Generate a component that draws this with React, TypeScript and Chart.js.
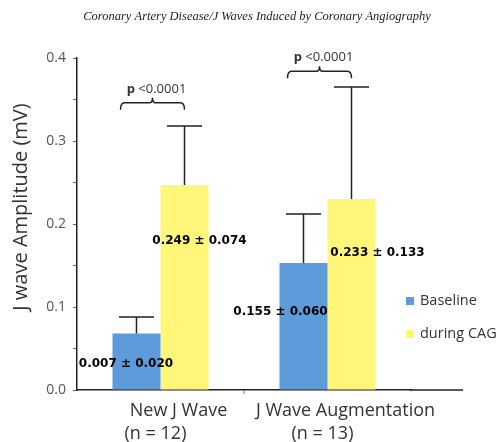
import React, { useEffect, useRef } from 'react';
import { Chart, registerables } from 'chart.js';

Chart.register(...registerables);

// ---- data ----
const categories = ['New J Wave', 'J Wave Augmentation'];
const categorySubLabels = ['(n = 12)', '(n = 13)'];
const seriesNames = ['Baseline', 'during CAG'];
const baselineMeans = [0.068, 0.153];
const baselineErr = [0.02, 0.059];
const cagMeans = [0.247, 0.23];
const cagErr = [0.071, 0.135];
const baselineValueLabels = ['0.007 ± 0.020', '0.155 ± 0.060'];
const cagValueLabels = ['0.249 ± 0.074', '0.233 ± 0.133'];
const pValueLabels = ['<0.0001', '<0.0001'];
const yMin = 0;
const yMax = 0.4;
const yStep = 0.05;
const chartTitle = 'Coronary Artery Disease/J Waves Induced by Coronary Angiography';
const yTitle = 'J wave Amplitude (mV)';

// ---- styles / annotation layout ----
const BLUE = '#5E9BDB';
const YELLOW = '#FFF67A';
const INK = '#222';
const valueLabelLevels = [[0.031, 0.094], [0.18, 0.165]]; // [dataset][category]
const valueLabelShift = [[-10.5, -23], [15, 26]];
const bracketLevels = [0.346, 0.384];

const annotate = {
  id: 'annotate',
  afterDatasetsDraw(chart: any) {
    const { ctx, chartArea, scales } = chart;
    const y = scales.y;
    const xs = scales.x;
    const means = [baselineMeans, cagMeans];
    const errs = [baselineErr, cagErr];
    const texts = [baselineValueLabels, cagValueLabels];
    ctx.save();
    // error bars
    ctx.strokeStyle = INK;
    ctx.lineWidth = 1.5;
    for (let d = 0; d < 2; d++) {
      const meta = chart.getDatasetMeta(d);
      meta.data.forEach((bar: any, i: number) => {
        const cx = bar.x;
        const top = y.getPixelForValue(means[d][i]);
        const ey = y.getPixelForValue(means[d][i] + errs[d][i]);
        const w = bar.width * 0.73;
        ctx.beginPath();
        ctx.moveTo(cx, top);
        ctx.lineTo(cx, ey);
        ctx.moveTo(cx - w / 2, ey);
        ctx.lineTo(cx + w / 2, ey);
        ctx.stroke();
      });
    }
    // value labels
    ctx.fillStyle = '#000';
    ctx.font = 'bold 12px "DejaVu Sans"';
    ctx.textAlign = 'center';
    ctx.textBaseline = 'middle';
    for (let d = 0; d < 2; d++) {
      const meta = chart.getDatasetMeta(d);
      meta.data.forEach((bar: any, i: number) => {
        ctx.fillText(texts[d][i], bar.x + valueLabelShift[d][i], y.getPixelForValue(valueLabelLevels[d][i]));
      });
    }
    // p-value brackets
    const m0 = chart.getDatasetMeta(0);
    const m1 = chart.getDatasetMeta(1);
    categories.forEach((_, i) => {
      const x1 = m0.data[i].x - 16;
      const x2 = m1.data[i].x;
      const by = y.getPixelForValue(bracketLevels[i]);
      const mid = (x1 + x2) / 2;
      ctx.strokeStyle = INK;
      ctx.lineWidth = 1.5;
      ctx.beginPath();
      ctx.moveTo(x1, by + 7);
      ctx.quadraticCurveTo(x1, by, x1 + 4, by);
      ctx.lineTo(mid - 3, by);
      ctx.quadraticCurveTo(mid, by, mid, by - 5);
      ctx.quadraticCurveTo(mid, by, mid + 3, by);
      ctx.lineTo(x2 - 4, by);
      ctx.quadraticCurveTo(x2, by, x2, by + 7);
      ctx.stroke();
      ctx.fillStyle = '#333';
      ctx.textBaseline = 'middle';
      ctx.font = 'bold 13px "Open Sans"';
      const pW = ctx.measureText('p ').width;
      ctx.font = '13px "Open Sans"';
      const restW = ctx.measureText(pValueLabels[i]).width;
      const start = mid + 4 - (pW + restW) / 2;
      ctx.textAlign = 'left';
      ctx.font = 'bold 13px "Open Sans"';
      ctx.fillText('p ', start, by - 14);
      ctx.font = '13px "Open Sans"';
      ctx.fillText(pValueLabels[i], start + pW, by - 14);
    });
    // x-axis extension and tick between categories
    ctx.strokeStyle = INK;
    ctx.lineWidth = 1.5;
    ctx.beginPath();
    ctx.moveTo(chartArea.right - 1, chartArea.bottom);
    ctx.lineTo(chartArea.right + 52, chartArea.bottom);
    ctx.stroke();
    const between = (xs.getPixelForValue(0) + xs.getPixelForValue(1)) / 2;
    ctx.strokeStyle = '#777';
    ctx.lineWidth = 1;
    ctx.beginPath();
    ctx.moveTo(between, chartArea.bottom);
    ctx.lineTo(between, chartArea.bottom + 4);
    ctx.stroke();
    // category labels
    ctx.fillStyle = '#333';
    ctx.font = '18px "Open Sans"';
    ctx.textAlign = 'center';
    ctx.textBaseline = 'middle';
    categories.forEach((c, i) => {
      const cx = xs.getPixelForValue(i);
      ctx.fillText(c, cx + 18, chartArea.bottom + 21);
      ctx.fillText(categorySubLabels[i], cx - 5, chartArea.bottom + 44);
    });
    // y title
    ctx.save();
    ctx.translate(21, 207);
    ctx.rotate(-Math.PI / 2);
    ctx.font = '20px "Open Sans"';
    ctx.fillStyle = '#333';
    ctx.fillText(yTitle, 0, 0);
    ctx.restore();
    // chart title
    ctx.font = 'italic 12.5px "Liberation Serif"';
    ctx.fillStyle = '#222';
    ctx.fillText(chartTitle, 257, 17);
    // legend
    ctx.font = '14.5px "Open Sans"';
    ctx.textAlign = 'left';
    chart.data.datasets.forEach((ds: any, i: number) => {
      const ly = 301 + i * 33;
      ctx.fillStyle = ds.backgroundColor;
      ctx.fillRect(406, ly - 4, 8, 8);
      ctx.fillStyle = '#333';
      ctx.fillText(ds.label, 420, ly);
    });
    ctx.restore();
  },
};

export default function App() {
  const ref = useRef<HTMLCanvasElement>(null);
  useEffect(() => {
    if (!ref.current) return;
    const chart = new Chart(ref.current, {
      type: 'bar',
      data: {
        labels: categories,
        datasets: [
          { label: seriesNames[0], data: baselineMeans, backgroundColor: BLUE, categoryPercentage: 0.575, barPercentage: 1 },
          { label: seriesNames[1], data: cagMeans, backgroundColor: YELLOW, categoryPercentage: 0.575, barPercentage: 1 },
        ],
      },
      options: {
        responsive: false,
        animation: false,
        devicePixelRatio: 1,
        layout: { padding: { top: 58, right: 88, left: 0, bottom: 0 } },
        plugins: { legend: { display: false }, tooltip: { enabled: false }, title: { display: false } },
        scales: {
          x: {
            afterFit: (s: any) => { s.height = 52; },
            ticks: { display: false },
            grid: { display: false },
            border: { display: true, color: INK, width: 1.5 },
          },
          y: {
            min: yMin,
            max: yMax,
            afterFit: (s: any) => { s.width = 77; },
            ticks: {
              stepSize: yStep,
              padding: 7,
              color: '#555',
              font: { family: '"Open Sans"', size: 14 },
              callback: (v: any) => (Math.abs(Math.round(v * 10) - v * 10) < 1e-6 ? Number(v).toFixed(1) : ''),
            },
            grid: { display: true, drawOnChartArea: false, tickLength: 4, color: '#666' },
            border: { display: true, color: INK, width: 1.5 },
          },
        },
      },
      plugins: [annotate],
    });
    return () => chart.destroy();
  }, []);
  return (
    <div style={{ position: 'fixed', left: 0, top: 0, width: 499, height: 442, background: '#fff' }}>
      <canvas ref={ref} width={499} height={442} />
    </div>
  );
}
